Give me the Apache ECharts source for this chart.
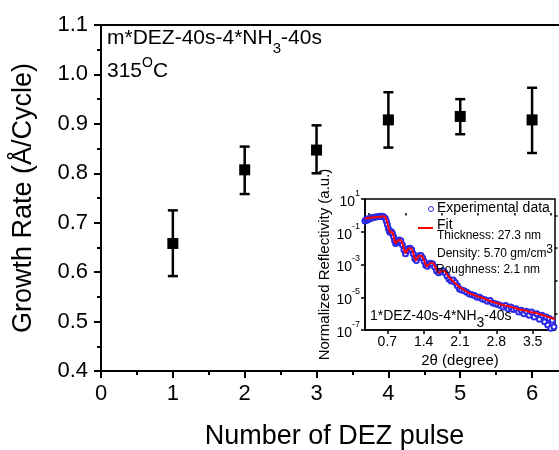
<!DOCTYPE html>
<html>
<head>
<meta charset="utf-8">
<script src="https://cdn.jsdelivr.net/npm/echarts@6/dist/echarts.min.js"></script>
<style>
  html, body { margin: 0; padding: 0; background: #fff; }
  #chart { width: 559px; height: 450px; }
</style>
</head>
<body>
<div id="chart"></div>
<script>
  // main plot: growth rate vs number of DEZ pulses
  var pulses = [1, 2, 3, 4, 5, 6];
  var growthRate = [0.658, 0.807, 0.847, 0.908, 0.915, 0.908];
  var rateLow = [0.592, 0.758, 0.800, 0.852, 0.879, 0.841];
  var rateHigh = [0.725, 0.854, 0.897, 0.964, 0.950, 0.973];

  // inset: XRR, 2theta (deg) vs log10 normalized reflectivity
  var expTheta = [0.27, 0.29, 0.31, 0.33, 0.36, 0.39, 0.42, 0.45, 0.48, 0.51, 0.54, 0.57, 0.60, 0.63, 0.66, 0.68,
    0.70, 0.72, 0.74, 0.76, 0.78, 0.80, 0.82, 0.84, 0.86, 0.88, 0.90, 0.93, 0.96, 0.99, 1.02, 1.05, 1.08, 1.11,
    1.14, 1.17, 1.20, 1.23, 1.26, 1.29, 1.32, 1.35, 1.38, 1.41, 1.44, 1.47, 1.50, 1.53, 1.57, 1.61, 1.65, 1.69,
    1.73, 1.77, 1.81, 1.85, 1.89, 1.93, 1.97, 2.01, 2.05, 2.09, 2.13, 2.18, 2.23, 2.28, 2.33, 2.38, 2.43, 2.48,
    2.53, 2.58, 2.63, 2.68, 2.73, 2.78, 2.83, 2.88, 2.93, 2.98, 3.03, 3.08, 3.13, 3.18, 3.23, 3.28, 3.33, 3.38,
    3.43, 3.48, 3.53, 3.58, 3.63, 3.68, 3.73, 3.76, 3.79, 3.82, 3.85, 3.88, 3.91];
  var expLogR = [-0.35, -0.25, -0.3, -0.2, -0.22, -0.15, -0.15, -0.12, -0.1, -0.08, -0.07, -0.06, -0.06, -0.08, -0.18, -0.35,
    -0.55, -0.8, -0.98, -1.05, -1.0, -1.1, -1.3, -1.55, -1.72, -1.65, -1.55, -1.5, -1.55, -1.8, -2.1, -2.35, -2.15, -2.02,
    -2.0, -2.1, -2.35, -2.65, -2.75, -2.55, -2.45, -2.45, -2.6, -2.8, -3.05, -3.1, -2.98, -2.92, -2.95, -3.15, -3.4, -3.5,
    -3.42, -3.38, -3.5, -3.7, -3.9, -4.0, -3.95, -4.1, -4.3, -4.5, -4.55, -4.6, -4.7, -4.8, -4.85, -4.9, -5.0, -5.0,
    -5.1, -5.15, -5.25, -5.2, -5.35, -5.4, -5.45, -5.5, -5.6, -5.5, -5.7, -5.6, -5.75, -5.7, -5.9, -5.8, -6.0, -5.85,
    -6.1, -5.9, -6.2, -6.0, -6.35, -6.1, -6.5, -6.2, -6.7, -6.3, -6.9, -6.4, -6.8];
  var fitTheta = [0.27, 0.35, 0.45, 0.55, 0.63, 0.67, 0.70, 0.73, 0.76, 0.79, 0.82, 0.86, 0.90, 0.95, 1.00, 1.05,
    1.10, 1.15, 1.20, 1.25, 1.30, 1.35, 1.41, 1.46, 1.52, 1.57, 1.63, 1.69, 1.75, 1.80, 1.87, 1.94, 2.01, 2.08,
    2.15, 2.25, 2.35, 2.45, 2.55, 2.65, 2.75, 2.85, 2.95, 3.05, 3.15, 3.25, 3.35, 3.45, 3.55, 3.65, 3.75, 3.85, 3.93];
  var fitLogR = [-0.2, -0.15, -0.12, -0.08, -0.06, -0.15, -0.45, -0.85, -1.05, -1.0, -1.25, -1.7, -1.55, -1.5, -1.8, -2.3,
    -2.05, -2.0, -2.3, -2.75, -2.5, -2.45, -2.75, -3.1, -2.95, -2.9, -3.2, -3.5, -3.4, -3.4, -3.7, -3.95, -4.15, -4.35,
    -4.5, -4.7, -4.85, -4.95, -5.05, -5.2, -5.3, -5.4, -5.5, -5.55, -5.65, -5.75, -5.8, -5.9, -5.95, -6.05, -6.15, -6.25, -6.35];

  var thetaLabels = [0.7, 1.4, 2.1, 2.8, 3.5];
  var thetaMinor = [0.35, 1.05, 1.75, 2.45, 3.15, 3.85];
  var decadeLabels = [-7, -5, -3, -1, 1];
  var decadeMinor = [-6, -4, -2, 0];

  var FONT = '"Liberation Sans", Arial, sans-serif';
  var BLUE = '#2a2ae6';

  function pairs(xs, ys) {
    return xs.map(function (x, i) { return [x, ys[i]]; });
  }

  function errorBar(params, api) {
    var x = api.value(0);
    var top = api.coord([x, api.value(2)]);
    var bot = api.coord([x, api.value(1)]);
    var half = 5;
    var style = { stroke: '#000', lineWidth: 2.5 };
    return {
      type: 'group',
      children: [
        { type: 'line', shape: { x1: top[0], y1: top[1], x2: bot[0], y2: bot[1] }, style: style },
        { type: 'line', shape: { x1: top[0] - half, y1: top[1], x2: top[0] + half, y2: top[1] }, style: style },
        { type: 'line', shape: { x1: bot[0] - half, y1: bot[1], x2: bot[0] + half, y2: bot[1] }, style: style }
      ]
    };
  }

  var chart = echarts.init(document.getElementById('chart'), null, { renderer: 'canvas' });

  chart.setOption({
    backgroundColor: '#fff',
    animation: false,
    textStyle: { fontFamily: FONT },
    grid: [
      { left: 101, top: 25, width: 467, height: 346, outerBoundsMode: 'none', containLabel: false,
        show: true, borderColor: '#000', borderWidth: 2, backgroundColor: 'transparent' },
      { left: 365, top: 199, width: 190, height: 131, outerBoundsMode: 'none', containLabel: false,
        show: true, borderColor: '#000', borderWidth: 1.5, backgroundColor: '#fff', z: 5 }
    ],
    xAxis: [
      {
        gridIndex: 0, type: 'value', min: 0, max: 6.5, interval: 1,
        name: 'Number of DEZ pulse', nameLocation: 'middle', nameGap: 52,
        nameTextStyle: { fontSize: 27, color: '#000', fontFamily: FONT },
        axisLine: { show: true, onZero: false, lineStyle: { color: '#000', width: 2 } },
        axisTick: { show: true, inside: false, length: 7, lineStyle: { color: '#000', width: 2 } },
        minorTick: { show: true, splitNumber: 2, length: 4, lineStyle: { color: '#000', width: 2 } },
        axisLabel: { fontSize: 22, color: '#000', margin: 12, fontFamily: FONT, showMaxLabel: false },
        splitLine: { show: false }
      },
      {
        gridIndex: 1, type: 'value', min: 0.27, max: 3.93, z: 6,
        name: '2θ (degree)', nameLocation: 'middle', nameGap: 23,
        nameTextStyle: { fontSize: 15, color: '#000', fontFamily: FONT },
        axisLine: { show: true, onZero: false, lineStyle: { color: '#000', width: 1.5 } },
        axisTick: { show: true, inside: false, length: 4, customValues: thetaLabels, lineStyle: { color: '#000', width: 1.5 } },
        axisLabel: { fontSize: 14, color: '#000', margin: 5, customValues: thetaLabels, fontFamily: FONT },
        splitLine: { show: false }
      },
      {
        gridIndex: 1, type: 'value', min: 0.27, max: 3.93, z: 6,
        axisLine: { show: false },
        axisTick: { show: true, inside: false, length: 2.5, customValues: thetaMinor, lineStyle: { color: '#000', width: 1.5 } },
        axisLabel: { show: false },
        splitLine: { show: false }
      }
    ],
    yAxis: [
      {
        gridIndex: 0, type: 'value', min: 0.4, max: 1.1, interval: 0.1,
        name: 'Growth Rate (Å/Cycle)', nameLocation: 'middle', nameGap: 64,
        nameTextStyle: { fontSize: 27, color: '#000', fontFamily: FONT },
        axisLine: { show: true, onZero: false, lineStyle: { color: '#000', width: 2 } },
        axisTick: { show: true, inside: false, length: 7, lineStyle: { color: '#000', width: 2 } },
        minorTick: { show: true, splitNumber: 2, length: 4, lineStyle: { color: '#000', width: 2 } },
        axisLabel: { fontSize: 22, color: '#000', margin: 13, fontFamily: FONT, formatter: function (v) { return v.toFixed(1); } },
        splitLine: { show: false }
      },
      {
        gridIndex: 1, type: 'value', min: -7, max: 1, z: 6,
        name: 'Normalized Reflectivity (a.u.)', nameLocation: 'middle', nameGap: 33,
        nameTextStyle: { fontSize: 15, color: '#000', fontFamily: FONT },
        axisLine: { show: true, onZero: false, lineStyle: { color: '#000', width: 1.5 } },
        axisTick: { show: true, inside: false, length: 4, customValues: decadeLabels, lineStyle: { color: '#000', width: 1.5 } },
        axisLabel: {
          margin: 5, customValues: decadeLabels, color: '#000',
          formatter: function (v) { return '{b|10}{s|' + v + '}'; },
          rich: {
            b: { fontSize: 14, lineHeight: 20, fontFamily: FONT, color: '#000', verticalAlign: 'bottom' },
            s: { fontSize: 9, lineHeight: 10, fontFamily: FONT, color: '#000', verticalAlign: 'top' }
          }
        },
        splitLine: { show: false }
      },
      {
        gridIndex: 1, type: 'value', min: -7, max: 1, z: 6,
        axisLine: { show: false },
        axisTick: { show: true, inside: false, length: 2.5, customValues: decadeMinor, lineStyle: { color: '#000', width: 1.5 } },
        axisLabel: { show: false },
        splitLine: { show: false }
      }
    ],
    series: [
      {
        name: 'error', type: 'custom', xAxisIndex: 0, yAxisIndex: 0, z: 3,
        renderItem: errorBar,
        encode: { x: 0, y: [1, 2] },
        data: pulses.map(function (p, i) { return [p, rateLow[i], rateHigh[i]]; })
      },
      {
        name: 'Growth rate', type: 'scatter', xAxisIndex: 0, yAxisIndex: 0, z: 4,
        symbol: 'rect', symbolSize: 11,
        itemStyle: { color: '#000', opacity: 1 },
        data: pairs(pulses, growthRate)
      },
      {
        name: 'Experimental data', type: 'scatter', xAxisIndex: 1, yAxisIndex: 1, z: 7,
        symbol: 'emptyCircle', symbolSize: 5,
        itemStyle: { color: BLUE, borderColor: BLUE, borderWidth: 1, opacity: 1 },
        data: pairs(expTheta, expLogR)
      },
      {
        name: 'Fit', type: 'line', xAxisIndex: 1, yAxisIndex: 1, z: 8,
        showSymbol: false, smooth: 0.3,
        lineStyle: { color: '#ff0000', width: 2 },
        data: pairs(fitTheta, fitLogR)
      }
    ],
    graphic: [
      {
        type: 'text', left: 107, top: 28, z: 10,
        style: {
          text: '{a|m*DEZ-40s-4*NH}{sub|3}{a|-40s}',
          rich: {
            a: { fontSize: 21, fontFamily: FONT, fill: '#000', lineHeight: 24, verticalAlign: 'top' },
            sub: { fontSize: 15, fontFamily: FONT, fill: '#000', lineHeight: 15, verticalAlign: 'bottom', padding: [0, 0, -4, 0] }
          }
        }
      },
      {
        type: 'text', left: 107, top: 56, z: 10,
        style: {
          text: '{a|315}{sup|O}{a|C}',
          rich: {
            a: { fontSize: 21, fontFamily: FONT, fill: '#000', lineHeight: 26, verticalAlign: 'bottom' },
            sup: { fontSize: 14, fontFamily: FONT, fill: '#000', lineHeight: 13, verticalAlign: 'top' }
          }
        }
      },
      // inset legend
      { type: 'circle', z: 10, shape: { cx: 431, cy: 209, r: 2.5 }, style: { fill: '#fff', stroke: BLUE, lineWidth: 1 } },
      { type: 'text', z: 10, left: 437, top: 201, style: { text: 'Experimental data', font: '14px ' + FONT, fill: '#000' } },
      { type: 'line', z: 10, shape: { x1: 418, y1: 228, x2: 433, y2: 228 }, style: { stroke: '#ff0000', lineWidth: 2 } },
      { type: 'text', z: 10, left: 437, top: 218, style: { text: 'Fit', font: '14px ' + FONT, fill: '#000' } },
      { type: 'text', z: 10, left: 437, top: 230, style: { text: 'Thickness: 27.3 nm', font: '12px ' + FONT, fill: '#000' } },
      {
        type: 'text', z: 10, left: 437, top: 244,
        style: {
          text: '{a|Density: 5.70 gm/cm}{s|3}',
          rich: {
            a: { fontSize: 12, fontFamily: FONT, fill: '#000', lineHeight: 16, verticalAlign: 'bottom' },
            s: { fontSize: 12, fontFamily: FONT, fill: '#000', lineHeight: 10, verticalAlign: 'top' }
          }
        }
      },
      { type: 'text', z: 10, left: 436, top: 264, style: { text: 'Roughness: 2.1 nm', font: '12px ' + FONT, fill: '#000' } },
      {
        type: 'text', z: 10, left: 370, top: 309,
        style: {
          text: '{a|1*DEZ-40s-4*NH}{sub|3}{a|-40s}',
          rich: {
            a: { fontSize: 14, fontFamily: FONT, fill: '#000', lineHeight: 18, verticalAlign: 'top' },
            sub: { fontSize: 14, fontFamily: FONT, fill: '#000', lineHeight: 18, verticalAlign: 'bottom', padding: [0, 0, -3, 0] }
          }
        }
      }
    ]
  });
</script>
</body>
</html>
